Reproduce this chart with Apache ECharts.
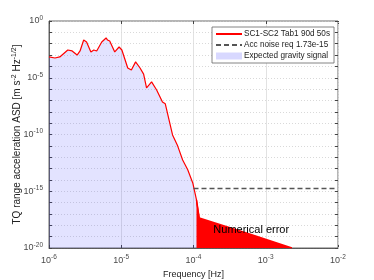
<!DOCTYPE html>
<html><head><meta charset="utf-8">
<script src="https://cdn.jsdelivr.net/npm/echarts@6/dist/echarts.min.js"></script>
<style>html,body{margin:0;padding:0;background:#fff}#c{width:374px;height:280px}</style>
</head><body><div id="c"></div>
<script>
// Frequency [Hz] and ASD values
const freq = [1.00e-6,1.21e-6,1.41e-6,1.82e-6,2.09e-6,2.45e-6,2.69e-6,3.02e-6,3.31e-6,3.80e-6,4.17e-6,4.57e-6,5.37e-6,6.17e-6,6.46e-6,6.92e-6,8.13e-6,9.33e-6,1.02e-5,1.07e-5,1.23e-5,1.38e-5,1.58e-5,1.82e-5,2.04e-5,2.24e-5,2.63e-5,3.09e-5,3.72e-5,4.07e-5,5.13e-5,6.03e-5,7.08e-5,8.32e-5,9.77e-5,1.10e-4,1.20e-4];
const asd = [6.8e-4,5.5e-4,6.8e-4,2.8e-3,2.3e-3,1.0e-3,2.3e-3,2.1e-2,1.4e-2,1.9e-3,2.8e-3,2.3e-3,1.4e-2,3.2e-2,2.1e-2,1.7e-2,1.9e-3,5.1e-3,2.8e-3,1.9e-3,7.2e-5,4.8e-5,2.5e-4,7.2e-5,2.1e-5,1.3e-6,4.3e-6,8.3e-7,7.2e-8,5.0e-8,9.1e-11,1.0e-11,5.6e-13,7.9e-14,5.4e-15,1.7e-16,4.4e-18];
const gravityEndFreq = [1.30e-4];
const gravityEndVal = [1e-20];
const errFreq = [1.10e-4,1.20e-4,5.4e-4,2.3e-3];
const errVal = [1.7e-16,4.4e-18,2.1e-19,1e-20];
const reqFreq = [1.0e-4,9.3e-3];
const reqVal = [1.73e-15,1.73e-15];
const xTickExp = ['-6','-5','-4','-3','-2'];
const yTickExp = ['-20','-15','-10','-5','0'];
const names = ['SC1-SC2 Tab1 90d 50s','Acc noise req 1.73e-15','Expected gravity signal'];

const curve = freq.map((f,i)=>[f,asd[i]]);
const gravity = curve.concat(gravityEndFreq.map((f,i)=>[f,gravityEndVal[i]]));
const err = errFreq.map((f,i)=>[f,errVal[i]]);
const req = reqFreq.map((f,i)=>[f,reqVal[i]]);

const minorX = [];
[1e-6,1e-5,1e-4,1e-3].forEach(d=>{for(let k=2;k<=9;k++) minorX.push(d*k);});
const majorY = [1e-15,1e-10,1e-5];

const FONT = 'Liberation Sans';
const rich = {b:{fontSize:9,color:'#4a4a4a',fontFamily:FONT},s:{fontSize:6.5,color:'#4a4a4a',fontFamily:FONT,verticalAlign:'top',padding:[0,0,6,0]}};
function fmt(arr){return function(v){const e=String(Math.round(Math.log10(v)));return arr.indexOf(e)>=0?'{b|10}{s|'+e+'}':'';};}
const hidden = {color:'rgba(0,0,0,0)',borderWidth:0};

const chart = echarts.init(document.getElementById('c'),null,{renderer:'canvas'});
chart.setOption({
  animation:false,
  textStyle:{fontFamily:FONT},
  grid:{left:49,right:36,top:21,bottom:32,outerBoundsMode:'none',containLabel:false,show:true,borderColor:'#444',borderWidth:0.8,backgroundColor:'transparent'},
  legend:{
    data:[{name:names[0],itemStyle:hidden},{name:names[1],itemStyle:hidden},{name:names[2],icon:'rect'}],
    orient:'vertical',left:212,top:27,itemWidth:26,itemHeight:7,itemGap:3,
    padding:[3,4,3,3],backgroundColor:'#fff',borderColor:'#666',borderWidth:0.8,
    textStyle:{fontSize:8.2,color:'#222',fontFamily:FONT,padding:[0,0,0,-3]}
  },
  xAxis:[{
    type:'log',logBase:10,min:1e-6,max:1e-2,interval:1,
    name:'Frequency [Hz]',nameLocation:'middle',nameGap:19,
    nameTextStyle:{fontSize:9,color:'#222',fontFamily:FONT},
    axisLine:{show:true,lineStyle:{color:'#444',width:0.8}},
    axisTick:{show:true,inside:true,length:3,lineStyle:{color:'#444'}},
    axisLabel:{formatter:fmt(xTickExp),rich:rich,margin:6},
    splitLine:{show:true,lineStyle:{color:'#dadada',width:0.8}}
  },{
    type:'log',logBase:10,min:1e-6,max:1e-2,interval:1,position:'top',
    axisLine:{show:false},axisTick:{show:true,inside:true,length:3,lineStyle:{color:'#444'}},
    axisLabel:{show:false},splitLine:{show:false}
  }],
  yAxis:[{
    type:'log',logBase:10,min:1e-20,max:1,interval:1,
    name:'{t|TQ range acceleration ASD [m s}{u|-2}{t| Hz}{u|-1/2}{t|]}',
    nameLocation:'middle',nameGap:25,nameRotate:90,nameMoveOverlap:false,
    nameTextStyle:{rich:{t:{fontSize:10,color:'#222',fontFamily:FONT},u:{fontSize:7,color:'#222',fontFamily:FONT,verticalAlign:'top',padding:[0,0,6,0]}}},
    axisLine:{show:true,lineStyle:{color:'#444',width:0.8}},
    axisTick:{show:true,inside:true,length:3,lineStyle:{color:'#444'}},
    axisLabel:{formatter:fmt(yTickExp),rich:rich,margin:6,showMinLabel:true,showMaxLabel:true},
    splitLine:{show:true,lineStyle:{color:'#c8c8c8',width:0.7,type:[1,2]}}
  },{
    type:'log',logBase:10,min:1e-20,max:1,interval:1,position:'right',
    axisLine:{show:false},axisTick:{show:true,inside:true,length:3,lineStyle:{color:'#444'}},
    axisLabel:{show:false},splitLine:{show:false}
  }],
  series:[
    {name:'grid',type:'line',data:[],silent:true,
     markLine:{silent:true,symbol:['none','none'],label:{show:false},animation:false,
       lineStyle:{type:[1,2],color:'#c8c8c8',width:0.7},
       data:minorX.map(v=>({xAxis:v})).concat(majorY.map(v=>({yAxis:v,lineStyle:{type:'solid',color:'#d6d6d6',width:0.8}})))}},
    {name:names[2],type:'line',data:gravity,symbol:'none',lineStyle:{width:0},
     itemStyle:{color:'rgba(60,60,255,0.2)'},
     areaStyle:{color:'rgba(60,60,255,0.2)',origin:'start'},z:1},
    {name:'err',type:'line',data:err,symbol:'none',lineStyle:{width:1.5,color:'#ff0000'},
     itemStyle:{color:'#ff0000'},areaStyle:{color:'#ff0000',opacity:1,origin:'start'},z:3,
     markPoint:{symbol:'rect',symbolSize:1,itemStyle:{color:'rgba(0,0,0,0)'},
       label:{show:true,position:'inside',formatter:'Numerical error',color:'#000',fontSize:11,fontFamily:FONT},
       data:[{coord:[6.3e-4,3.9e-19]}]}},
    {name:names[0],type:'line',data:curve,symbol:'none',lineStyle:{width:1.2,color:'#ff0000'},itemStyle:{color:'#ff0000'},z:4},
    {name:names[1],type:'line',data:req,symbol:'none',lineStyle:{width:1.5,color:'#555',type:[5,3]},itemStyle:{color:'#000'},z:5}
  ]
});
</script></body></html>
